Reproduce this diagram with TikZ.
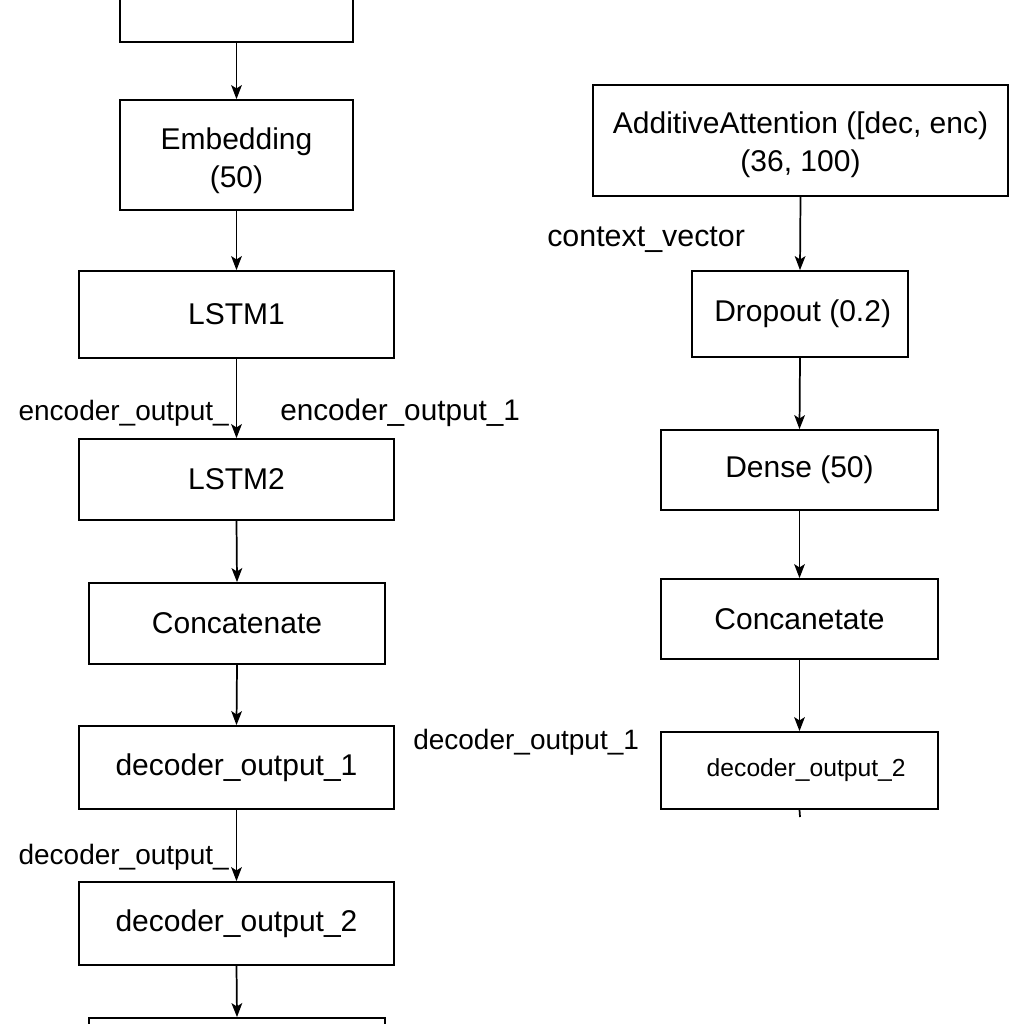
\documentclass[tikz,border=0pt]{standalone}
\usepackage{fontspec}
\setmainfont{Liberation Sans}
\usetikzlibrary{arrows.meta}
\tikzset{
  box/.style={draw=black, line width=1.3pt, rectangle, inner sep=0pt, align=center,
    font=\fontsize{22.5}{28.5}\selectfont},
  lbl/.style={inner sep=0pt, font=\fontsize{21}{25}\selectfont},
  two/.style={inner sep=0pt, align=center, font=\fontsize{22.5}{28.5}\selectfont},
  conn/.style={draw=black, line width=1.3pt, -{Stealth[length=10.5pt,width=8pt,inset=2.5pt]}},
}
\begin{document}
\begin{tikzpicture}[x=0.75pt,y=-0.75pt]
\useasboundingbox (0,0) rectangle (1024,1024);
\clip (0,0) rectangle (1024,1024);
\fill[white] (0,0) rectangle (1024,1024);
% left column
\node[box, minimum width=174.75pt, minimum height=61.5pt] (top) at (236.5,1) {};
\node[box, minimum width=174.75pt, minimum height=82.5pt,
  label={[two, yshift=-4.5pt]center:{Embedding\\(50)}}] (emb) at (236.5,155) {};
\node[box, minimum width=236.25pt, minimum height=65.25pt] (lstm1) at (236.5,314.5) {LSTM1};
\node[box, minimum width=236.25pt, minimum height=60.75pt] (lstm2) at (236.5,479.5) {LSTM2};
\node[box, minimum width=222pt, minimum height=60.75pt] (cat1) at (237,623.5) {Concatenate};
\node[box, minimum width=236.25pt, minimum height=62.25pt] (dec1) at (236.5,767.5) {decoder\_output\_1};
\node[box, minimum width=236.25pt, minimum height=62.25pt] (dec2) at (236.5,923.5) {decoder\_output\_2};
\node[box, minimum width=222pt, minimum height=61.5pt] (bot) at (237,1059) {};
\draw[conn] (top.south) -- (emb.north);
\draw[conn] (emb.south) -- (lstm1.north);
\draw[conn] (lstm1.south) -- (lstm2.north);
\draw[conn] (lstm2.south) -- (cat1.north);
\draw[conn] (cat1.south) -- (dec1.north);
\draw[conn] (dec1.south) -- (dec2.north);
\draw[conn] (dec2.south) -- (bot.north);
\node[lbl, anchor=east] (l1) at (229,413) {encoder\_output\_};
\node[lbl, anchor=west, font=\fontsize{22.3}{26}\selectfont] (l2) at (280,413) {encoder\_output\_1};
\node[lbl, anchor=west] (l3) at (413,742) {decoder\_output\_1};
\node[lbl, anchor=east] (l4) at (229,857) {decoder\_output\_};
% right column
\node[box, minimum width=311.25pt, minimum height=83.25pt,
  label={[two, yshift=-3.5pt]center:{AdditiveAttention ([dec, enc)\\(36, 100)}}] (attn) at (800.5,140.5) {};
\node[box, minimum width=162pt, minimum height=64.5pt] (drop) at (800,314) {\hspace*{4pt}Dropout (0.2)};
\node[box, minimum width=207.75pt, minimum height=60pt] (dense) at (799.5,470) {Dense (50)};
\node[box, minimum width=207.75pt, minimum height=60pt] (cat2) at (799.5,619) {Concanetate};
\node[box, minimum width=207.75pt, minimum height=57.75pt, font=\fontsize{18.5}{22}\selectfont] (dec2r) at (799.5,770.5) {\hspace*{10pt}decoder\_output\_2};
\coordinate (tick) at (800,817);
\draw[conn] (attn.south) -- (drop.north);
\draw[conn] (drop.south) -- (dense.north);
\draw[conn] (dense.south) -- (cat2.north);
\draw[conn] (cat2.south) -- (dec2r.north);
\draw[line width=1.3pt] (dec2r.south) -- (tick);
\node[lbl, anchor=west, font=\fontsize{22.8}{26}\selectfont] (l5) at (547,240) {context\_vector};
\end{tikzpicture}
\end{document}
